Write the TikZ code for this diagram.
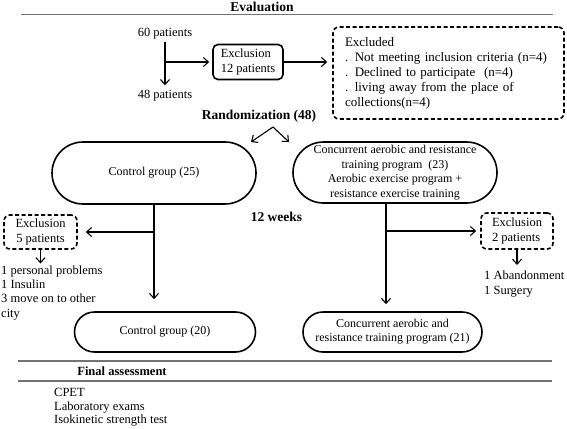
\documentclass[tikz,border=0pt]{standalone}
\usepackage{fontspec}
\setmainfont{Liberation Serif}
\usetikzlibrary{arrows.meta}

\begin{document}
\begin{tikzpicture}[x=1pt,y=-1pt,
  every node/.style={inner sep=0pt},
  head/.style={font=\fontsize{13.5}{16}\selectfont\bfseries},
  body/.style={font=\fontsize{12.5}{14.3}\selectfont},
  arr/.style={line width=1.1pt,-{Straight Barb[length=5pt,width=9pt]}},
  rule/.style={line width=1.3pt,black!55},
  solidbox/.style={draw,line width=1.6pt,rounded corners=5pt,font=\fontsize{12.5}{15}\selectfont},
  dashbox/.style={draw,line width=1.6pt,rounded corners=6pt,dash pattern=on 4pt off 2.5pt},
  stadium/.style={draw,line width=1.6pt,rounded corners=#1,align=center,font=\fontsize{12}{14.5}\selectfont}]
  \useasboundingbox (0,0) rectangle (567,428);

  \node[head] (eval) at (262,7) {Evaluation};
  \draw[rule] (21,14.5) -- (553,14.5);

  \node[body] (p60) at (165,34) {60 patients};
  \node[body] (p48) at (165,96) {48 patients};
  \draw[arr,shorten <=2pt,shorten >=5pt] (p60.south) -- (p48.north);
  \node[solidbox,minimum width=70pt,minimum height=35pt,align=left] (excl) at (248,62) {Exclusion\\12 patients};
  \coordinate (b60) at (p60.south |- excl.west);
  \draw[arr,shorten >=3pt] (b60) -- (excl.west);
  \node[dashbox,text width=207pt,inner xsep=12pt,minimum height=92pt,align=left,
        font=\fontsize{13}{15}\selectfont] (exd) at (448.5,73)
    {Excluded\\. Not meeting inclusion criteria (n=4)\\. Declined to participate~ (n=4)\\. living away from the place of\\collections(n=4)};
  \draw[arr,shorten >=5pt] (excl.east) -- (excl.east -| exd.west);

  \node[head] (rand) at (259,116) {Randomization (48)};
  \coordinate (sp) at (273,127);
  \coordinate (sl) at (251,142);
  \coordinate (sr) at (289,142);
  \draw[arr] (sp) -- (sl);
  \draw[arr] (sp) -- (sr);

  \node[stadium=31pt,minimum width=204pt,minimum height=62pt] (cg25) at (154,173) {Control group (25)};
  \node[stadium=30.5pt,minimum width=204pt,minimum height=61pt] (ct23) at (395,172.5)
    {Concurrent aerobic and resistance\\training program~ (23)\\Aerobic exercise program +\\resistance exercise training};
  \node[head] (wk) at (276.5,217) {12 weeks};

  \node[stadium=20pt,minimum width=181pt,minimum height=40pt] (cg20) at (165,332) {Control group (20)};
  \node[stadium=20pt,minimum width=179pt,minimum height=40pt,font=\fontsize{12}{14}\selectfont] (ct21) at (392.5,332)
    {Concurrent aerobic and\\resistance training program (21)};

  \node[dashbox,minimum width=73pt,minimum height=34pt,align=center,body] (ex5) at (40.5,232) {Exclusion\\5 patients};
  \draw[arr,shorten >=12pt] (cg25.south) -- (cg25.south |- cg20.north);
  \draw[arr,shorten >=8pt] (cg25.south |- ex5.east) -- (ex5.east);
  \node[body,anchor=north west,align=left] (rs5) at (1,265.5) {1 personal problems\\1 Insulin\\3 move on to other\\city};
  \draw[arr,shorten >=2pt] (ex5.south) -- (ex5.south |- rs5.north);

  \coordinate (ct23b) at (386,203);
  \node[dashbox,minimum width=72pt,minimum height=36pt,align=left,inner xsep=8pt,body] (ex2) at (517,231) {Exclusion\\2 patients};
  \draw[arr,shorten >=7pt] (ct23b) -- (ct23b |- ct21.north);
  \draw[arr,shorten >=4pt] (ct23b |- ex2.west) -- (ex2.west);
  \node[body,anchor=north west,align=left] (rs2) at (484,271) {1 Abandonment\\1 Surgery};
  \draw[arr,shorten >=6pt] (ex2.south) -- (ex2.south |- rs2.north);

  \draw[rule] (18,361) -- (552,361);
  \node[head,font=\fontsize{12.5}{15}\selectfont\bfseries] (fa) at (122,371) {Final assessment};
  \draw[rule] (18,381) -- (552,381);
  \node[body,anchor=north west,align=left,font=\fontsize{12.5}{13.5}\selectfont] (tests) at (54,388.5)
    {CPET\\Laboratory exams\\Isokinetic strength test};
\end{tikzpicture}
\end{document}
